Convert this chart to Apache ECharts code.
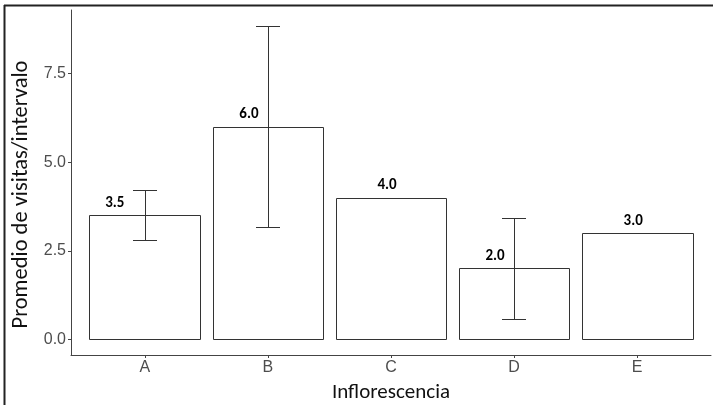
<!DOCTYPE html>
<html>
<head>
<meta charset="utf-8">
<script src="https://cdn.jsdelivr.net/npm/echarts@6/dist/echarts.min.js"></script>
<style>html,body{margin:0;padding:0;background:#fff;}#c{width:713px;height:405px;}</style>
</head>
<body>
<div id="c"></div>
<script>
var categories = ['A', 'B', 'C', 'D', 'E'];
var means = [3.5, 6.0, 4.0, 2.0, 3.0];
var errLow = [2.8, 3.17, null, 0.58, null];
var errHigh = [4.2, 8.83, null, 3.42, null];
var yTicks = [0, 2.5, 5, 7.5];
var xTicks = [1, 2, 3, 4, 5];

var labelNudge = [-30, -19, -4, -19, -4];

var chart = echarts.init(document.getElementById('c'));
var barData = means.map(function (v, i) { return [i + 1, v]; });
var errData = [];
means.forEach(function (v, i) {
  if (errLow[i] != null) errData.push([i + 1, errLow[i], errHigh[i]]);
});

function crisp(v) { return Math.round(v) + 0.5; }

var option = {
  animation: false,
  grid: { left: 71, right: 2, top: 10, bottom: 50, containLabel: false, outerBoundsMode: 'none' },
  xAxis: {
    type: 'value', min: 0.4, max: 5.6,
    splitLine: { show: false },
    axisLine: { show: true, onZero: false, lineStyle: { color: '#444', width: 1 } },
    axisTick: { show: true, length: 3, customValues: xTicks, lineStyle: { color: '#444' } },
    axisLabel: {
      customValues: xTicks, margin: 5,
      color: '#4d4d4d', fontFamily: 'Liberation Sans', fontSize: 16,
      formatter: function (v) { return categories[Math.round(v) - 1]; }
    },
    name: 'Inflorescencia', nameLocation: 'middle', nameGap: 27,
    nameTextStyle: { color: '#111', fontFamily: 'Carlito, Noto Sans', fontSize: 21 }
  },
  yAxis: {
    type: 'value', min: -0.44, max: 9.29,
    splitLine: { show: false },
    axisLine: { show: true, onZero: false, lineStyle: { color: '#444', width: 1 } },
    axisTick: { show: true, length: 3, customValues: yTicks, lineStyle: { color: '#444' } },
    axisLabel: {
      customValues: yTicks, margin: 5,
      color: '#4d4d4d', fontFamily: 'Liberation Sans', fontSize: 16,
      formatter: function (v) { return v.toFixed(1); }
    },
    name: 'Promedio de visitas/intervalo', nameLocation: 'middle', nameGap: 35,
    nameTextStyle: { color: '#111', fontFamily: 'Carlito, Noto Sans', fontSize: 22.5, padding: [0, 24, 0, 0] }
  },
  series: [
    {
      type: 'custom', data: barData, z: 2,
      renderItem: function (params, api) {
        var x = api.value(0), y = api.value(1);
        var p0 = api.coord([x - 0.45, y]);
        var p1 = api.coord([x + 0.45, 0]);
        var idx = params.dataIndex;
        var l = crisp(p0[0]), t = crisp(p0[1]), r = crisp(p1[0]), b = crisp(p1[1]);
        var c = api.coord([x, y]);
        return {
          type: 'group',
          children: [
            { type: 'rect', shape: { x: l, y: t, width: r - l, height: b - t },
              style: { fill: '#fff', stroke: '#333', lineWidth: 1 } },
            { type: 'text', x: c[0] + labelNudge[idx], y: c[1] - 12,
              style: { text: y.toFixed(1), fill: '#000', font: 'bold 15px Carlito, "DejaVu Sans"',
                align: 'center', verticalAlign: 'middle' } }
          ]
        };
      }
    },
    {
      type: 'custom', data: errData, z: 3,
      renderItem: function (params, api) {
        var x = api.value(0), lo = api.value(1), hi = api.value(2);
        var pl = api.coord([x, lo]), ph = api.coord([x, hi]);
        var cl = api.coord([x - 0.1, lo]), cr = api.coord([x + 0.1, lo]);
        var xc = crisp(pl[0]), yl = crisp(pl[1]), yh = crisp(ph[1]);
        var st = { stroke: '#333', lineWidth: 1 };
        return {
          type: 'group',
          children: [
            { type: 'line', shape: { x1: xc, y1: yl, x2: xc, y2: yh }, style: st },
            { type: 'line', shape: { x1: Math.round(cl[0]), y1: yl, x2: Math.round(cr[0]), y2: yl }, style: st },
            { type: 'line', shape: { x1: Math.round(cl[0]), y1: yh, x2: Math.round(cr[0]), y2: yh }, style: st }
          ]
        };
      }
    }
  ],
  graphic: [
    { type: 'line', shape: { x1: 4, y1: 5.5, x2: 713, y2: 5.5 }, style: { stroke: '#222', lineWidth: 2 } },
    { type: 'line', shape: { x1: 4.5, y1: 5, x2: 4.5, y2: 405 }, style: { stroke: '#222', lineWidth: 2 } }
  ]
};
chart.setOption(option);
</script>
</body>
</html>
